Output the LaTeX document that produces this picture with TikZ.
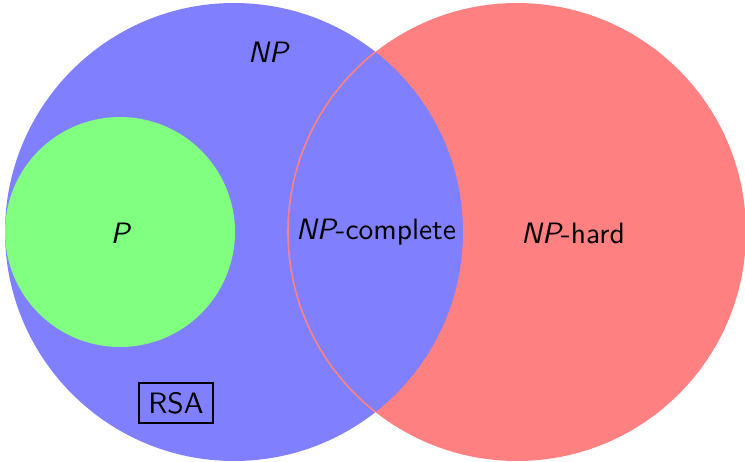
\documentclass[tikz,border=0pt]{standalone}
\usepackage{fontspec}
\newfontfamily\lmsten[SlantedFont=lmsans10-oblique.otf,ItalicFont=lmsans10-oblique.otf]{lmsans10-regular.otf}
\begin{document}
\begin{tikzpicture}[x=1pt,y=-1pt,
  lbl/.style={font=\fontsize{29.5}{34}\selectfont\lmsten, inner sep=0pt},
  boxlbl/.style={font=\fontsize{29.5}{34}\selectfont\lmsten, draw=black, line width=1.5pt, minimum width=74pt, minimum height=40pt, inner sep=0pt}]
\useasboundingbox (0,0) rectangle (745,461);
\coordinate (cnp) at (234,232);
\coordinate (cnh) at (517,232);
\fill[blue!50] (cnp) circle (229);
\fill[red!50] (cnh) circle (229);
\begin{scope}
  \clip (cnp) circle (229);
  \fill[blue!50] (cnh) circle (229);
  \draw[red!50, line width=1.6pt] (cnh) circle (229);
\end{scope}
\fill[green!50] (120,232) circle (115);
\node[lbl] (np) at (268,52) {\slshape NP};
\node[lbl] (p) at (120,233) {\slshape P};
\node[lbl] (npc) at (376,232) {{\slshape NP}-complete};
\node[lbl] (nph) at (573,233) {{\slshape NP}-hard};
\node[boxlbl] (rsa) at (176,403) {RSA};
\end{tikzpicture}
\end{document}
